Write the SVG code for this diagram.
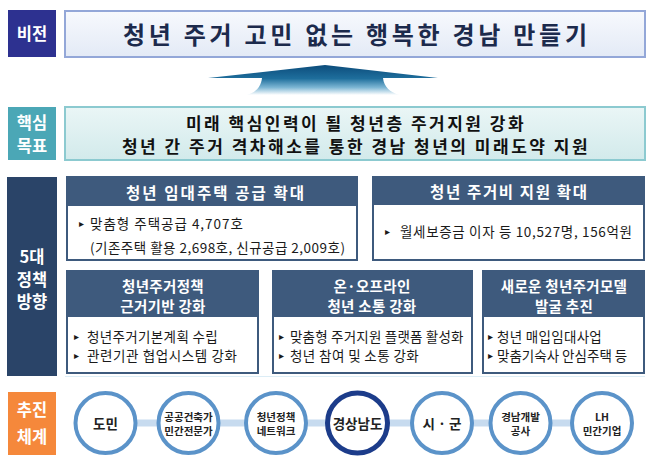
<svg xmlns="http://www.w3.org/2000/svg" width="655" height="467" viewBox="0 0 655 467">
<defs>
<linearGradient id="gVis" x1="0" y1="0" x2="0" y2="1"><stop offset="0" stop-color="#f7f9fd"/><stop offset="1" stop-color="#e3eaf6"/></linearGradient>
<linearGradient id="gCore" x1="0" y1="0" x2="0" y2="1"><stop offset="0" stop-color="#eaf6f6"/><stop offset="1" stop-color="#d2eaeb"/></linearGradient>
<linearGradient id="gArrow" x1="0" y1="65" x2="0" y2="95" gradientUnits="userSpaceOnUse"><stop offset="0" stop-color="#0c4c7b"/><stop offset="0.45" stop-color="#1e6e9c"/><stop offset="0.75" stop-color="#7db6d4"/><stop offset="1" stop-color="#ffffff"/></linearGradient>
</defs>
<style>
text{font-family:"Noto Sans CJK KR","Noto Sans",sans-serif;dominant-baseline:central}
.lbl{fill:#ffffff;font-weight:bold;font-size:16.5px;text-anchor:middle}
.hdr{fill:#3e5a7d}
.frame{fill:#ffffff;stroke:#3e5a7d;stroke-width:2}
.htxt{fill:#ffffff;font-weight:bold;font-size:15.5px;text-anchor:middle}
.htxt2{fill:#ffffff;font-weight:bold;font-size:14.5px;text-anchor:middle}
.body{fill:#1a1a1a;font-size:13.5px}
.bul{fill:#1a1a1a;font-size:10px;font-family:"DejaVu Sans",sans-serif}
.circ{fill:#ffffff;stroke:#5b93c9;stroke-width:4}
.ctxt{fill:#222222;font-weight:bold;font-size:10.5px;text-anchor:middle}
.ctxt2{fill:#222222;font-weight:bold;font-size:13.5px;text-anchor:middle}
</style>
<rect width="655" height="467" fill="#ffffff"/>

<g id="vision-label"><rect x="8" y="10" width="48" height="47" fill="#2d3190"/><text class="lbl" x="32" y="33" font-size="17">비전</text></g>
<g id="vision"><rect x="65" y="11" width="580" height="46" fill="url(#gVis)" stroke="#93a7d8" stroke-width="2"/><text x="355" y="33" font-size="24" font-weight="bold" fill="#1c2a4c" text-anchor="middle" textLength="464" lengthAdjust="spacing">청년 주거 고민 없는 행복한 경남 만들기</text></g>

<g id="up-arrow"><path d="M208,78 L325,65 L438,78 L383,78 C384,87 390,92 399,95 L247,95 C256,92 261,87 262,78 Z" fill="url(#gArrow)"/></g>

<g id="goal-label"><rect x="8" y="107" width="48" height="53" fill="#4ba7b6"/><text class="lbl"><tspan x="32" y="122">핵심</tspan><tspan x="32" y="144.5">목표</tspan></text></g>
<g id="goal"><rect x="65" y="107" width="580" height="53" fill="url(#gCore)" stroke="#8ccad0" stroke-width="2"/>
<text font-size="17" font-weight="bold" fill="#111111" text-anchor="middle" letter-spacing="2.5"><tspan x="356" y="122">미래 핵심인력이 될 청년층 주거지원 강화</tspan><tspan x="356" y="145">청년 간 주거 격차해소를 통한 경남 청년의 미래도약 지원</tspan></text></g>

<g id="policy-label"><rect x="7" y="177" width="50" height="199" fill="#2a4468"/><text class="lbl"><tspan x="32" y="256">5대</tspan><tspan x="32" y="278.5">정책</tspan><tspan x="32" y="301">방향</tspan></text></g>

<g id="policy1"><rect class="frame" x="67" y="177" width="290" height="83"/><rect class="hdr" x="67" y="177" width="290" height="29"/>
<text class="htxt" x="215" y="191.5" textLength="178" lengthAdjust="spacing">청년 임대주택 공급 확대</text>
<text class="bul" x="79" y="223">▸</text><text class="body" x="90" y="223" font-size="14" textLength="153" lengthAdjust="spacing">맞춤형 주택공급 4,707호</text>
<text class="body" x="90" y="247" font-size="13" textLength="255" lengthAdjust="spacing">(기존주택 활용 2,698호, 신규공급 2,009호)</text></g>

<g id="policy2"><rect class="frame" x="373" y="177" width="271" height="83"/><rect class="hdr" x="373" y="177" width="271" height="28"/>
<text class="htxt" x="508.5" y="191" textLength="157" lengthAdjust="spacing">청년 주거비 지원 확대</text>
<text class="bul" x="385" y="231">▸</text><text class="body" x="400" y="231" font-size="14" textLength="232" lengthAdjust="spacing">월세보증금 이자 등 10,527명, 156억원</text></g>

<g id="policy3"><rect class="frame" x="67" y="271" width="191" height="102"/><rect class="hdr" x="67" y="271" width="191" height="46"/>
<text class="htxt2" letter-spacing="0.3"><tspan x="163" y="285">청년주거정책</tspan><tspan x="163" y="305">근거기반 강화</tspan></text>
<text class="body"><tspan class="bul" x="74" y="336">▸</tspan><tspan x="87" y="336" letter-spacing="0.35">청년주거기본계획 수립</tspan><tspan class="bul" x="74" y="354.5">▸</tspan><tspan x="87" y="354.5" letter-spacing="0.6">관련기관 협업시스템 강화</tspan></text></g>

<g id="policy4"><rect class="frame" x="273" y="271" width="199" height="102"/><rect class="hdr" x="273" y="271" width="199" height="46"/>
<text class="htxt2" letter-spacing="0.3"><tspan x="372" y="285">온·오프라인</tspan><tspan x="372" y="305">청년 소통 강화</tspan></text>
<text class="body"><tspan class="bul" x="279" y="336">▸</tspan><tspan x="290" y="336" letter-spacing="0.2">맞춤형 주거지원 플랫폼 활성화</tspan><tspan class="bul" x="279" y="354.5">▸</tspan><tspan x="290" y="354.5" letter-spacing="0.4">청년 참여 및 소통 강화</tspan></text></g>

<g id="policy5"><rect class="frame" x="483" y="271" width="161" height="102"/><rect class="hdr" x="483" y="271" width="161" height="46"/>
<text class="htxt2" letter-spacing="0.3"><tspan x="564" y="285">새로운 청년주거모델</tspan><tspan x="564" y="305">발굴 추진</tspan></text>
<text class="body"><tspan class="bul" x="488" y="336">▸</tspan><tspan x="497" y="336" letter-spacing="0.3">청년 매입임대사업</tspan><tspan class="bul" x="488" y="354.5">▸</tspan><tspan x="497" y="354.5">맞춤기숙사 안심주택 등</tspan></text></g>

<line x1="65" y1="376.5" x2="645" y2="376.5" stroke="#dcedf6" stroke-width="1"/>

<g id="system-label"><rect x="8" y="392" width="48" height="63" fill="#f5883b"/><text class="lbl" font-size="17"><tspan x="32" y="409">추진</tspan><tspan x="32" y="436">체계</tspan></text></g>

<g id="connectors"><line x1="105" y1="423" x2="602" y2="423" stroke="#c7dbef" stroke-width="7"/></g>

<g id="n-domin"><circle class="circ" cx="105.5" cy="423" r="30"/><text class="ctxt2" x="105.5" y="423">도민</text></g>
<g id="n-expert"><circle class="circ" cx="188.5" cy="423" r="30"/><text class="ctxt"><tspan x="188.5" y="415.5">공공건축가</tspan><tspan x="188.5" y="430">민간전문가</tspan></text></g>
<g id="n-network"><circle class="circ" cx="276" cy="423" r="30"/><text class="ctxt"><tspan x="276" y="415.5">청년정책</tspan><tspan x="276" y="430">네트워크</tspan></text></g>
<g id="n-province"><circle cx="357.5" cy="423" r="30" fill="#ffffff" stroke="#1c3c8a" stroke-width="5"/><text class="ctxt2" x="357.5" y="423">경상남도</text></g>
<g id="n-city"><circle class="circ" cx="442" cy="423" r="30"/><text class="ctxt2" x="442" y="423">시 · 군</text></g>
<g id="n-gndc"><circle class="circ" cx="520.5" cy="423" r="30"/><text class="ctxt"><tspan x="520.5" y="415.5">경남개발</tspan><tspan x="520.5" y="430">공사</tspan></text></g>
<g id="n-lh"><circle class="circ" cx="602" cy="423" r="30"/><text class="ctxt"><tspan x="602" y="415.5">LH</tspan><tspan x="602" y="430">민간기업</tspan></text></g>
</svg>
